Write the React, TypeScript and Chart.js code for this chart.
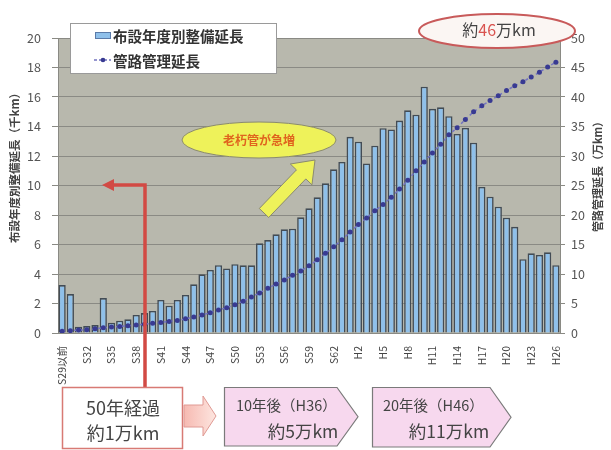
import React, { useEffect, useRef } from "react";
import { Chart, registerables } from "chart.js";

Chart.register(...registerables);

// ---- data ----
const categories = [
  "S29以前", "S30", "S31", "S32", "S33", "S34", "S35", "S36", "S37", "S38",
  "S39", "S40", "S41", "S42", "S43", "S44", "S45", "S46", "S47", "S48",
  "S49", "S50", "S51", "S52", "S53", "S54", "S55", "S56", "S57", "S58",
  "S59", "S60", "S61", "S62", "S63", "H1", "H2", "H3", "H4", "H5",
  "H6", "H7", "H8", "H9", "H10", "H11", "H12", "H13", "H14", "H15",
  "H16", "H17", "H18", "H19", "H20", "H21", "H22", "H23", "H24", "H25", "H26",
];

// 布設年度別整備延長 (千km)
const installLength = [
  3.25, 2.64, 0.43, 0.47, 0.54, 2.37, 0.7, 0.83, 0.93, 1.22,
  1.35, 1.5, 2.24, 1.85, 2.24, 2.58, 3.3, 3.98, 4.27, 4.6,
  4.38, 4.66, 4.59, 4.59, 6.08, 6.3, 6.69, 7.03, 7.07, 7.84,
  8.45, 9.2, 10.15, 11.1, 11.6, 13.3, 12.97, 11.5, 12.7, 13.88,
  13.8, 14.4, 15.1, 14.8, 16.7, 15.2, 15.3, 14.7, 13.5, 13.9,
  12.9, 9.9, 9.24, 8.56, 7.82, 7.2, 5.0, 5.4, 5.29, 5.47, 4.6,
];

// 管路管理延長 (万km)
const managedLength = [
  0.3, 0.4, 0.5, 0.55, 0.7, 0.9, 1.0, 1.1, 1.25, 1.35,
  1.5, 1.65, 1.8, 1.95, 2.1, 2.4, 2.7, 3.05, 3.45, 3.9,
  4.3, 4.8, 5.4, 6.1, 6.8, 7.6, 8.3, 9.0, 9.8, 10.5,
  11.4, 12.4, 13.5, 14.6, 15.8, 17.1, 18.4, 19.5, 20.7, 21.8,
  23.0, 24.4, 25.9, 27.5, 29.0, 30.5, 32.0, 33.6, 34.8, 36.2,
  37.5, 38.5, 39.4, 40.2, 41.1, 41.9, 42.6, 43.4, 44.2, 45.1, 45.9,
];

const leftMax = 20;
const leftStep = 2;
const rightMax = 50;
const rightStep = 5;

const barLabel = "布設年度別整備延長";
const lineLabel = "管路管理延長";
const leftTitle = "布設年度別整備延長（千km）";
const rightTitle = "管路管理延長（万km）";

const FONT = '"Noto Sans CJK JP", "Noto Sans", sans-serif';

const BAR_FILL = "#8fc0ea";
const BAR_EDGE = "#434c55";
const LINE_COLOR = "#7474c0";
const POINT_COLOR = "#383a92";

function ellipse(ctx: CanvasRenderingContext2D, cx: number, cy: number, rx: number, ry: number) {
  ctx.beginPath();
  ctx.ellipse(cx, cy, rx, ry, 0, 0, Math.PI * 2);
  ctx.closePath();
}

const decorPlugin = {
  id: "decor",
  beforeDraw(chart: any) {
    const { ctx, chartArea: a } = chart;
    ctx.save();
    ctx.fillStyle = "#ffffff";
    ctx.fillRect(0, 0, chart.width, chart.height);
    ctx.fillStyle = "#b8b8ad";
    ctx.fillRect(a.left, a.top, a.right - a.left, a.bottom - a.top);
    ctx.restore();
  },
  afterDraw(chart: any) {
    const ctx: CanvasRenderingContext2D = chart.ctx;
    ctx.save();

    // ---- axis titles ----
    ctx.fillStyle = "#444";
    ctx.font = `bold 11.5px ${FONT}`;
    ctx.textAlign = "center";
    ctx.textBaseline = "middle";
    ctx.save();
    ctx.translate(15, 165);
    ctx.rotate(-Math.PI / 2);
    ctx.fillText(leftTitle, 0, 0);
    ctx.restore();
    ctx.save();
    ctx.translate(598, 174);
    ctx.rotate(-Math.PI / 2);
    ctx.font = `bold 11px ${FONT}`;
    ctx.fillText(rightTitle, 0, 0);
    ctx.restore();

    // ---- red arrow ----
    ctx.strokeStyle = "#d24a44";
    ctx.fillStyle = "#d24a44";
    ctx.lineWidth = 3.5;
    ctx.beginPath();
    ctx.moveTo(145, 389);
    ctx.lineTo(145, 185);
    ctx.lineTo(112, 185);
    ctx.stroke();
    ctx.beginPath();
    ctx.moveTo(102, 185);
    ctx.lineTo(114, 179);
    ctx.lineTo(114, 191);
    ctx.closePath();
    ctx.fill();

    // ---- yellow arrow ----
    {
      const tx = 264, ty = 213, hx = 315, hy = 160;
      const dx = hx - tx, dy = hy - ty;
      const len = Math.hypot(dx, dy);
      const ux = dx / len, uy = dy / len;
      const nx = -uy, ny = ux;
      const sw = 6.5, hw = 15, hl = 20;
      const bx = hx - ux * hl, by = hy - uy * hl;
      ctx.beginPath();
      ctx.moveTo(tx + nx * sw, ty + ny * sw);
      ctx.lineTo(bx + nx * sw, by + ny * sw);
      ctx.lineTo(bx + nx * hw, by + ny * hw);
      ctx.lineTo(hx, hy);
      ctx.lineTo(bx - nx * hw, by - ny * hw);
      ctx.lineTo(bx - nx * sw, by - ny * sw);
      ctx.lineTo(tx - nx * sw, ty - ny * sw);
      ctx.closePath();
      ctx.fillStyle = "#eef25a";
      ctx.fill();
      ctx.strokeStyle = "#8a8a70";
      ctx.lineWidth = 1;
      ctx.stroke();
    }

    // ---- yellow ellipse ----
    ellipse(ctx, 259, 140, 77, 18);
    ctx.fillStyle = "#eef25a";
    ctx.fill();
    ctx.strokeStyle = "#8a8a70";
    ctx.lineWidth = 1;
    ctx.stroke();
    ctx.fillStyle = "#e0641e";
    ctx.font = `bold 12px ${FONT}`;
    ctx.textAlign = "center";
    ctx.textBaseline = "middle";
    ctx.fillText("老朽管が急増", 259, 140);

    // ---- legend ----
    ctx.fillStyle = "#ffffff";
    ctx.fillRect(70, 23, 206, 50);
    ctx.strokeStyle = "#9a9a9a";
    ctx.lineWidth = 1;
    ctx.strokeRect(70.5, 23.5, 206, 50);
    ctx.fillStyle = BAR_FILL;
    ctx.fillRect(95, 32, 15, 6);
    ctx.strokeStyle = "#5a7aa8";
    ctx.strokeRect(95.5, 32.5, 15, 6);
    ctx.strokeStyle = LINE_COLOR;
    ctx.lineWidth = 1.5;
    ctx.setLineDash([3, 2]);
    ctx.beginPath();
    ctx.moveTo(94, 60);
    ctx.lineTo(111, 60);
    ctx.stroke();
    ctx.setLineDash([]);
    ctx.fillStyle = POINT_COLOR;
    ctx.beginPath();
    ctx.arc(103, 60, 2.3, 0, Math.PI * 2);
    ctx.fill();
    ctx.fillStyle = "#333";
    ctx.font = `bold 14.5px ${FONT}`;
    ctx.textAlign = "left";
    ctx.fillText(barLabel, 113, 36);
    ctx.fillText(lineLabel, 113, 61);

    // ---- top ellipse 約46万km ----
    ellipse(ctx, 497, 31, 78, 17);
    ctx.fillStyle = "#fbf6f3";
    ctx.fill();
    ctx.strokeStyle = "#c85a5a";
    ctx.lineWidth = 2;
    ctx.stroke();
    {
      ctx.font = `16px ${FONT}`;
      const p1 = "約", p2 = "46", p3 = "万km";
      const w1 = ctx.measureText(p1).width;
      const w2 = ctx.measureText(p2).width;
      const w3 = ctx.measureText(p3).width;
      let x = 499 - (w1 + w2 + w3) / 2;
      ctx.textAlign = "left";
      ctx.fillStyle = "#444";
      ctx.fillText(p1, x, 30);
      x += w1;
      ctx.fillStyle = "#d9534f";
      ctx.fillText(p2, x, 30);
      x += w2;
      ctx.fillStyle = "#444";
      ctx.fillText(p3, x, 30);
    }

    // ---- bottom box 1 ----
    ctx.fillStyle = "#ffffff";
    ctx.fillRect(62, 387, 120, 61);
    ctx.strokeStyle = "#d87a74";
    ctx.lineWidth = 1.5;
    ctx.strokeRect(62.5, 387.5, 120, 61);
    ctx.fillStyle = "#444";
    ctx.font = `18px ${FONT}`;
    ctx.textAlign = "center";
    ctx.fillText("50年経過", 123, 408);
    ctx.fillText("約1万km", 123, 433);

    // ---- block arrow ----
    {
      const g = ctx.createLinearGradient(183, 0, 216, 0);
      g.addColorStop(0, "#f6b8b0");
      g.addColorStop(1, "#fde6e0");
      ctx.beginPath();
      ctx.moveTo(184, 405);
      ctx.lineTo(203, 405);
      ctx.lineTo(203, 396);
      ctx.lineTo(216, 416);
      ctx.lineTo(203, 436);
      ctx.lineTo(203, 427);
      ctx.lineTo(184, 427);
      ctx.closePath();
      ctx.fillStyle = g;
      ctx.fill();
      ctx.strokeStyle = "#e09a94";
      ctx.lineWidth = 1;
      ctx.stroke();
    }

    // ---- pentagons ----
    const pent = (x0: number, x1: number, tip: number, y0: number, y1: number) => {
      ctx.beginPath();
      ctx.moveTo(x0, y0);
      ctx.lineTo(x1, y0);
      ctx.lineTo(tip, (y0 + y1) / 2);
      ctx.lineTo(x1, y1);
      ctx.lineTo(x0, y1);
      ctx.closePath();
      ctx.fillStyle = "#f7d8ee";
      ctx.fill();
      ctx.strokeStyle = "#7a7a7a";
      ctx.lineWidth = 1.2;
      ctx.stroke();
    };
    pent(224.5, 337, 358, 387.5, 446);
    pent(372.5, 490, 511, 387.5, 447);
    ctx.fillStyle = "#444";
    ctx.textAlign = "left";
    ctx.font = `14.5px ${FONT}`;
    ctx.fillText("10年後（H36）", 236, 405);
    ctx.fillText("20年後（H46）", 383, 405);
    ctx.textAlign = "center";
    ctx.font = `17.5px ${FONT}`;
    ctx.fillText("約5万km", 303, 431);
    ctx.fillText("約11万km", 449, 431);

    ctx.restore();
  },
};

export default function App() {
  const canvasRef = useRef<HTMLCanvasElement | null>(null);

  useEffect(() => {
    document.body.style.margin = "0";
    const canvas = canvasRef.current;
    if (!canvas) return;
    const chart = new Chart(canvas, {
      type: "bar",
      data: {
        labels: categories,
        datasets: [
          {
            type: "line",
            label: lineLabel,
            data: managedLength,
            yAxisID: "y1",
            borderColor: LINE_COLOR,
            borderWidth: 1.5,
            borderDash: [3, 3],
            pointRadius: 2.5,
            pointBackgroundColor: POINT_COLOR,
            pointBorderWidth: 0,
            tension: 0,
            order: 1,
          } as any,
          {
            type: "bar",
            label: barLabel,
            data: installLength,
            yAxisID: "y",
            backgroundColor: BAR_FILL,
            borderColor: BAR_EDGE,
            borderWidth: 1.6,
            barPercentage: 0.88,
            categoryPercentage: 1,
            order: 2,
          } as any,
        ],
      },
      options: {
        responsive: false,
        animation: false,
        devicePixelRatio: 1,
        layout: { padding: { top: 38, left: 0, right: 0, bottom: 0 } },
        plugins: {
          legend: { display: false },
          tooltip: { enabled: false },
        },
        scales: {
          x: {
            type: "category",
            offset: true,
            grid: { display: false },
            border: { display: false },
            ticks: {
              autoSkip: false,
              maxRotation: 90,
              minRotation: 90,
              padding: 5,
              color: "#444",
              font: { family: FONT, size: 10.5 },
              callback: (_v: any, i: number) => (i % 3 === 0 ? categories[i] : ""),
            },
            afterFit: (s: any) => {
              s.height = 117;
            },
          },
          y: {
            position: "left",
            min: 0,
            max: leftMax,
            ticks: {
              stepSize: leftStep,
              color: "#555",
              padding: 11,
              font: { family: FONT, size: 12.5 },
            },
            grid: { color: "#8a8a84", tickLength: 6, lineWidth: 1 },
            border: { display: true, color: "#8a8a84" },
            afterFit: (s: any) => {
              s.width = 58;
            },
          },
          y1: {
            position: "right",
            min: 0,
            max: rightMax,
            ticks: {
              stepSize: rightStep,
              color: "#555",
              padding: 6,
              font: { family: FONT, size: 12.5 },
            },
            grid: { drawOnChartArea: false, color: "#8a8a84", tickLength: 5 },
            border: { display: true, color: "#8a8a84" },
            afterFit: (s: any) => {
              s.width = 51;
            },
          },
        },
      } as any,
      plugins: [decorPlugin],
    });
    return () => chart.destroy();
  }, []);

  return (
    <div style={{ width: 611, height: 450, background: "#fff" }}>
      <canvas ref={canvasRef} width={611} height={450} style={{ display: "block" }} />
    </div>
  );
}
